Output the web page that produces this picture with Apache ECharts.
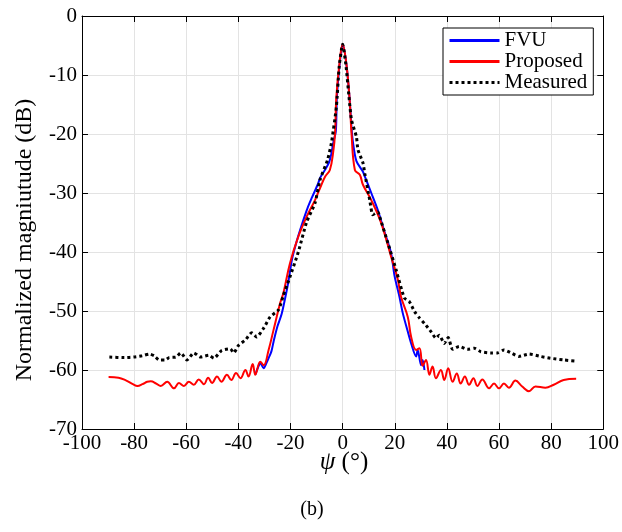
<!DOCTYPE html>
<html>
<head>
<meta charset="utf-8">
<script src="https://cdn.jsdelivr.net/npm/echarts@6/dist/echarts.min.js"></script>
<style>
html,body{margin:0;padding:0;background:#fff;}
#c{width:622px;height:532px;}
</style>
</head>
<body>
<div id="c"></div>
<script>
// [psi (deg), normalized magnitude (dB)]
var fvuPoints = [[-33.5,-60.8],[-32.3,-59.4],[-31.6,-58.8],[-30.3,-59.7],[-29.2,-58.8],[-28.4,-58],[-27.3,-56.8],[-26.5,-55.2],[-25,-52.6],[-23.4,-50.5],[-22,-47.7],[-20.8,-45],[-19.4,-41.2],[-17.5,-38],[-15.6,-35.3],[-13.5,-32.6],[-11.8,-30.8],[-9.5,-28.5],[-8.6,-27.4],[-6.8,-26.1],[-5.2,-24.8],[-4.3,-23.3],[-3.5,-21.3],[-2.6,-19.5],[-2.2,-13.7],[-1.1,-8],[0,-4.8],[1.4,-8],[2.7,-14.2],[3.5,-19.5],[4,-21.5],[5.3,-24.6],[7.8,-26.4],[8.5,-27.2],[11,-30],[13.5,-32.9],[16,-36.5],[18.6,-40.2],[19.9,-44],[21.8,-47.6],[23.1,-50.4],[24.7,-53],[26.3,-55.5],[28.2,-57.7],[28.8,-56.6],[30.1,-59.2],[30.7,-58.3],[31.4,-60]];
var proposedPoints = [[-89.8,-61.2],[-86,-61.3],[-83,-61.8],[-80.5,-62.4],[-78.7,-62.7],[-76.8,-62.4],[-75,-62],[-73.6,-61.9],[-71.5,-62.3],[-69.8,-62.7],[-67.3,-62],[-64.7,-63.1],[-62.8,-62.2],[-60.9,-62.7],[-59,-62],[-57.1,-62.5],[-55.2,-61.6],[-53.2,-62.4],[-51.6,-61.3],[-50.1,-62.2],[-48.2,-61.1],[-46.5,-62],[-44.4,-60.8],[-42.7,-61.7],[-40.9,-60.5],[-39.2,-61.4],[-37.3,-60],[-36.1,-61.1],[-34.5,-59],[-33.5,-60.8],[-31.6,-58.6],[-30.3,-59.2],[-28.4,-56.6],[-26.5,-53.2],[-24,-48.7],[-22.7,-46.9],[-20.2,-41.9],[-17,-37.4],[-13.8,-34],[-10.6,-31.2],[-8.7,-29.2],[-6.7,-27.2],[-4.9,-26.1],[-3.6,-23],[-2.9,-19.8],[-2.4,-13.7],[-1.2,-8],[0,-4.8],[1.4,-8],[2.7,-14.2],[3.4,-19.8],[4.7,-26.1],[6.6,-26.9],[7.8,-28.6],[11,-31.2],[14.8,-35.1],[18.6,-40.8],[21.2,-44.7],[22.4,-47.6],[25,-51],[26.3,-54.4],[28.2,-56.6],[29.5,-56.3],[30.7,-59.3],[32,-58.3],[33.3,-60.8],[34.5,-59.4],[35.8,-61.4],[37.7,-60],[39,-61.7],[40.5,-59.7],[42.2,-62],[43.8,-60.6],[45.3,-62.3],[46.9,-61.1],[48.5,-62.5],[50.2,-61.4],[51.7,-62.7],[53.6,-61.6],[56.2,-63.1],[58.1,-62.3],[60,-63.1],[61.9,-62.3],[63.8,-63],[66.3,-61.8],[68.9,-62.8],[71.5,-63.6],[74,-62.8],[77.8,-63],[81,-62.5],[84.8,-61.7],[89.6,-61.5]];
var measuredPoints = [[-89.5,-57.8],[-83.8,-57.9],[-80,-57.8],[-76.9,-57.6],[-74.2,-57.3],[-72.3,-57.6],[-70.4,-58.3],[-68.1,-58.3],[-66.6,-57.9],[-63.9,-57.8],[-62.1,-57.1],[-59.7,-58.3],[-57.1,-57.1],[-54.5,-57.8],[-51.3,-57.5],[-49.4,-58],[-46.4,-56.7],[-43.1,-56.4],[-41.8,-57.1],[-39.9,-55.8],[-37.3,-54.9],[-34.9,-53.7],[-33,-54.4],[-30.3,-52.9],[-27.8,-51],[-24.6,-49.8],[-22.7,-47.3],[-20.2,-44.2],[-17,-40],[-13.8,-34.9],[-10.6,-31.7],[-8.7,-27.8],[-5.8,-24.4],[-4.3,-21.5],[-2.4,-15.4],[-1.3,-8.5],[0,-4.8],[1.3,-8.5],[2.4,-13.5],[3.4,-17.6],[5.3,-20.5],[5.9,-22.7],[7.8,-24.9],[8.5,-26.7],[10.4,-31.2],[11.6,-33.7],[13.5,-33.2],[14.2,-34],[17.4,-38.5],[20.5,-43],[23.7,-47.8],[25.6,-48.4],[27.6,-50.1],[29.5,-51.2],[31.4,-52.1],[33.9,-53.5],[35.8,-54.6],[37.1,-54.1],[39,-55.5],[40.5,-54.5],[42.2,-56.5],[44.7,-56],[47.9,-56.5],[50.5,-56.3],[53,-56.9],[56.8,-57.1],[59.4,-57.1],[61.9,-56.6],[65.1,-57.2],[67.6,-57.7],[71.5,-57.3],[75.9,-57.7],[79.7,-58],[84.8,-58.3],[89.9,-58.5]];
var seriesNames = ['FVU', 'Proposed', 'Measured'];
var xRange = [-100, 100, 20];
var yRange = [-70, 0, 10];

var FONT = "'Liberation Serif', 'Times New Roman', serif";
var chart = echarts.init(document.getElementById('c'), null, {renderer: 'canvas'});

function xAxisCfg(pos, main) {
  return {
    type: 'value', position: pos, min: xRange[0], max: xRange[1], interval: xRange[2],
    axisLine: {show: true, onZero: false, lineStyle: {color: '#000', width: 1}},
    axisTick: {show: true, inside: true, length: 6, lineStyle: {color: '#000'}},
    axisLabel: {show: main, color: '#000', fontFamily: FONT, fontSize: 21, margin: 4},
    splitLine: {show: main, lineStyle: {color: '#e3e3e3', width: 1}}
  };
}
function yAxisCfg(pos, main) {
  return {
    type: 'value', position: pos, min: yRange[0], max: yRange[1], interval: yRange[2],
    axisLine: {show: true, onZero: false, lineStyle: {color: '#000', width: 1}},
    axisTick: {show: true, inside: true, length: 6, lineStyle: {color: '#000'}},
    axisLabel: {show: main, color: '#000', fontFamily: FONT, fontSize: 21, margin: 5},
    splitLine: {show: main, lineStyle: {color: '#e3e3e3', width: 1}}
  };
}

chart.setOption({
  animation: false,
  backgroundColor: '#fff',
  grid: {left: 82, right: 16, top: 16, bottom: 103, containLabel: false},
  xAxis: [xAxisCfg('bottom', true), xAxisCfg('top', false)],
  yAxis: [yAxisCfg('left', true), yAxisCfg('right', false)],
  legend: {
    orient: 'vertical', left: 443, top: 28,
    data: seriesNames,
    itemWidth: 50, itemHeight: 14, itemGap: 0,
    padding: [2, 6, 2, 5],
    backgroundColor: '#fff', borderColor: '#000', borderWidth: 1, borderRadius: 0,
    textStyle: {color: '#000', fontFamily: FONT, fontSize: 21, lineHeight: 20},
    itemStyle: {opacity: 0},
    lineStyle: {width: 3}
  },
  graphic: [
    {type: 'text', position: [25, 240], rotation: Math.PI / 2,
     style: {text: 'Normalized magniutude (dB)', font: '24px ' + FONT, fill: '#000', textAlign: 'center', textVerticalAlign: 'middle'}},
    {type: 'text', position: [344, 462],
     style: {rich: {i: {fontStyle: 'italic', fontFamily: FONT, fontSize: 25, fill: '#000'}, n: {fontFamily: FONT, fontSize: 25, fill: '#000'}},
             text: '{i|ψ}{n| (°)}', textAlign: 'center', textVerticalAlign: 'middle'}},
    {type: 'text', position: [312, 510],
     style: {text: '(b)', font: '20px ' + FONT, fill: '#000', textAlign: 'center', textVerticalAlign: 'middle'}}
  ],
  series: [
    {name: seriesNames[0], type: 'line', data: fvuPoints, showSymbol: false, symbol: 'none', smooth: 0.3,
     lineStyle: {color: '#0000ff', width: 2}, itemStyle: {color: '#0000ff'}, z: 2},
    {name: seriesNames[1], type: 'line', data: proposedPoints, showSymbol: false, symbol: 'none', smooth: 0.4,
     lineStyle: {color: '#ff0000', width: 2}, itemStyle: {color: '#ff0000'}, z: 3},
    {name: seriesNames[2], type: 'line', data: measuredPoints, showSymbol: false, symbol: 'none', smooth: 0.2,
     lineStyle: {color: '#000', width: 3, type: [3, 3], cap: 'butt'}, itemStyle: {color: '#000'}, z: 4}
  ]
});
</script>
</body>
</html>
